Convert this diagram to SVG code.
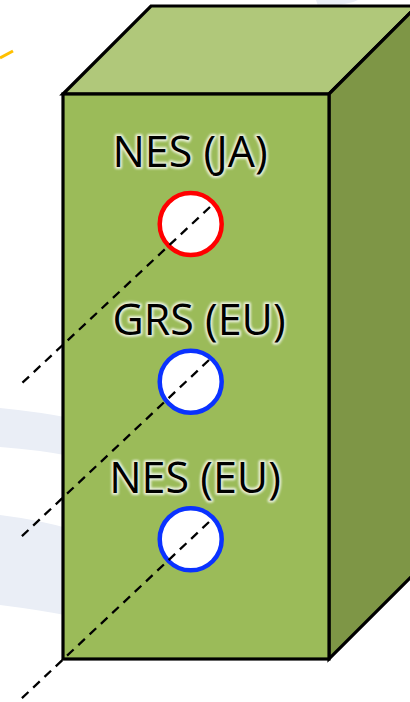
<svg xmlns="http://www.w3.org/2000/svg" width="410" height="702" viewBox="0 0 410 702">
  <style>
    .edge { stroke: #000; stroke-width: 3.2; stroke-linejoin: miter; }
    .lbl { font-family: "Open Sans", "Noto Sans", "DejaVu Sans", sans-serif; font-size: 43px; text-anchor: middle; }
    .glow { fill: #fff; stroke: #fff; stroke-width: 4; stroke-linejoin: round; opacity: 0.8; }
    .ink { fill: #000; }
    .ring { fill: #fff; stroke-width: 4.5; }
    .dash { stroke: #000; stroke-width: 2.3; stroke-dasharray: 9 6.5; fill: none; }
    .band { fill: #eaeef6; }
  </style>
  <defs>
    <filter id="soft" x="-10%" y="-20%" width="120%" height="140%">
      <feGaussianBlur stdDeviation="0.8"/>
    </filter>
  </defs>
  <rect width="410" height="702" fill="#fff"/>
  <g id="background">
    <path class="band" d="M0,408 Q40,412 70,418 L70,456 Q40,450 0,447 Z"/>
    <path class="band" d="M0,515 Q40,520 70,529 L70,616 Q40,610 0,605 Z"/>
    <path class="band" d="M316,0 L358,0 Q350,4 330,6 L318,6 Z"/>
    <line x1="0" y1="58" x2="13" y2="51" stroke="#ffc000" stroke-width="3"/>
  </g>
  <g id="box">
    <polygon class="edge" fill="#b0c87a" points="63,94 151,6 417,6 329,94"/>
    <polygon class="edge" fill="#7e9646" points="329,94 417,6 417,571 329,659"/>
    <rect class="edge" x="63" y="94" width="266" height="565" fill="#9bbb59"/>
  </g>
  <g id="node-nes-ja">
    <text class="lbl glow" filter="url(#soft)" x="190" y="167">NES (JA)</text>
    <text class="lbl ink" x="190" y="167">NES (JA)</text>
    <circle class="ring" cx="190.7" cy="224" r="31" stroke="#ff0000"/>
  </g>
  <g id="node-grs-eu">
    <text class="lbl glow" filter="url(#soft)" x="199" y="335">GRS (EU)</text>
    <text class="lbl ink" x="199" y="335">GRS (EU)</text>
    <circle class="ring" cx="190.7" cy="381.7" r="31" stroke="#0a32ff"/>
  </g>
  <g id="node-nes-eu">
    <text class="lbl glow" filter="url(#soft)" x="195" y="493">NES (EU)</text>
    <text class="lbl ink" x="195" y="493">NES (EU)</text>
    <circle class="ring" cx="190.7" cy="539.3" r="31" stroke="#0a32ff"/>
  </g>
  <g id="connectors">
    <line class="dash" x1="210" y1="207" x2="20" y2="385"/>
    <line class="dash" x1="209" y1="360" x2="20" y2="538"/>
    <line class="dash" x1="209" y1="522" x2="20" y2="700"/>
  </g>
</svg>
